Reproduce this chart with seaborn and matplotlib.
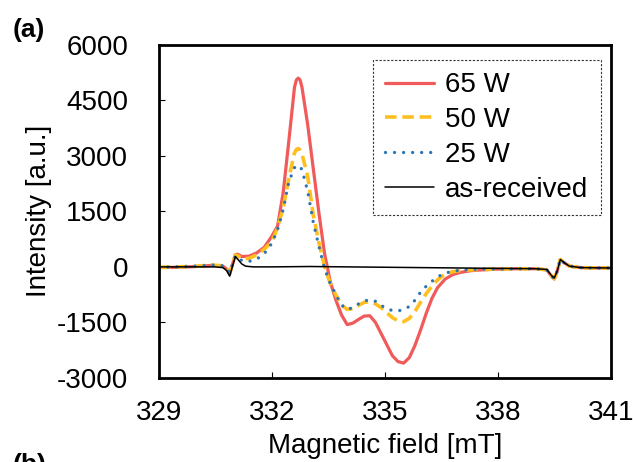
import matplotlib
matplotlib.use("Agg")
import matplotlib.pyplot as plt
import seaborn as sns
import pandas as pd

# Magnetic field positions (mT) shared by the plasma-treated spectra
field_mT = [329.0, 329.5, 330.0, 330.4, 330.7, 330.8, 330.88, 330.95, 331.03, 331.1,
            331.2, 331.4, 331.6, 331.8, 332.0, 332.15, 332.3, 332.45, 332.6, 332.65,
            332.7, 332.75, 332.8, 332.95, 333.1, 333.25, 333.4, 333.55, 333.7, 333.85,
            334.0, 334.15, 334.3, 334.45, 334.6, 334.75, 334.9, 335.05, 335.2, 335.35,
            335.5, 335.65, 335.8, 335.95, 336.1, 336.25, 336.4, 336.6, 336.8, 337.0,
            337.3, 337.6, 338.0, 338.5, 339.0, 339.3, 339.42, 339.5, 339.58, 339.66,
            339.75, 339.9, 340.2, 340.6, 341.0]

int_65W = [-20, -10, 10, 40, 20, -60, -200, 50, 330, 340,
           280, 290, 380, 530, 830, 1100, 2000, 3400, 4850, 5050,
           5100, 5050, 4850, 3850, 2650, 1450, 350, -400, -900, -1300,
           -1560, -1520, -1420, -1330, -1320, -1500, -1800, -2100, -2400, -2560,
           -2600, -2450, -2120, -1700, -1250, -850, -560, -330, -210, -150,
           -100, -80, -60, -50, -50, -80, -250, -330, -100, 200,
           120, 20, -20, -30, -30]

int_50W = [-10, 0, 20, 50, 30, -40, -160, 60, 320, 300,
           220, 230, 330, 480, 690, 1050, 1600, 2400, 3080, 3170,
           3200, 3150, 3050, 2450, 1400, 650, 0, -450, -760, -1030,
           -1150, -1130, -1040, -960, -940, -1000, -1100, -1240, -1370, -1460,
           -1480, -1390, -1200, -950, -720, -520, -350, -190, -130, -100,
           -80, -70, -60, -50, -50, -80, -240, -320, -100, 200,
           120, 20, -20, -30, -30]

int_25W = [-10, 0, 20, 50, 30, -40, -160, 60, 300, 260,
           170, 150, 210, 360, 640, 1000, 1550, 2300, 2680, 2730,
           2740, 2710, 2620, 2050, 1200, 550, -50, -450, -760, -1030,
           -1150, -1100, -1000, -920, -890, -930, -1040, -1130, -1180, -1190,
           -1150, -1070, -900, -680, -520, -390, -270, -170, -120, -90,
           -70, -60, -60, -50, -50, -80, -240, -320, -100, 200,
           120, 20, -20, -30, -30]

# Untreated reference spectrum
field_raw_mT = [329.0, 330.0, 330.5, 330.7, 330.8, 330.88, 330.95, 331.03, 331.1, 331.2,
                331.3, 331.5, 332.0, 333.0, 334.0, 335.0, 336.0, 337.0, 338.0, 339.0,
                339.3, 339.42, 339.5, 339.58, 339.66, 339.75, 339.9, 340.2, 341.0]
int_raw = [0, 0, 0, -20, -100, -250, 0, 280, 200, 80,
           20, 0, 0, 10, 0, -10, -20, -30, -40, -50,
           -70, -230, -300, -100, 200, 120, 20, -20, -30]

series_labels = ["65 W", "50 W", "25 W", "as-received"]
x_ticks = [329, 332, 335, 338, 341]
y_ticks = [-3000, -1500, 0, 1500, 3000, 4500, 6000]

sns.set_theme(style="white")
plt.rcParams["font.family"] = ["Liberation Sans", "DejaVu Sans"]

fig = plt.figure(figsize=(6.33, 4.62), dpi=100)
ax = fig.add_axes([0.251, 0.182, 0.714, 0.721])

df65 = pd.DataFrame({"field": field_mT, "intensity": int_65W})
df50 = pd.DataFrame({"field": field_mT, "intensity": int_50W})
df25 = pd.DataFrame({"field": field_mT, "intensity": int_25W})
dfraw = pd.DataFrame({"field": field_raw_mT, "intensity": int_raw})

sns.lineplot(data=df65, x="field", y="intensity", ax=ax, estimator=None,
             color="#F05A5A", linewidth=2.3, label=series_labels[0])
sns.lineplot(data=df50, x="field", y="intensity", ax=ax, estimator=None,
             color="#FFBF1F", linewidth=2.6, linestyle=(0, (3.2, 1.6)),
             label=series_labels[1])
sns.lineplot(data=df25, x="field", y="intensity", ax=ax, estimator=None,
             color="#2E75B6", linewidth=2.4, linestyle=(0, (0.01, 2.7)),
             dash_capstyle="round", label=series_labels[2])
sns.lineplot(data=dfraw, x="field", y="intensity", ax=ax, estimator=None,
             color="black", linewidth=1.1, label=series_labels[3])

ax.set_xlim(329, 341)
ax.set_ylim(-3000, 6000)
ax.set_xticks(x_ticks)
ax.set_yticks(y_ticks)
ax.set_xticklabels([str(t) for t in x_ticks])
ax.set_yticklabels([str(t) for t in y_ticks])

ax.tick_params(axis="both", direction="in", length=4, width=0.8,
               color="black", labelsize=20, labelcolor="black")
ax.tick_params(axis="x", pad=16, bottom=True)
ax.tick_params(axis="y", pad=22, left=True)

for side in ["left", "bottom", "right", "top"]:
    ax.spines[side].set_linewidth(2.0)
    ax.spines[side].set_color("black")

ax.set_xlabel("Magnetic field [mT]", fontsize=20, color="black", labelpad=5)
ax.set_ylabel("Intensity [a.u.]", fontsize=20, color="black", labelpad=4)

leg = ax.legend(loc="upper right", bbox_to_anchor=(0.978, 0.955), fontsize=20,
                frameon=True, fancybox=False, handlelength=1.75, handletextpad=0.4,
                labelspacing=0.32, borderpad=0.45, borderaxespad=0.0,
                labelcolor="black")
frame = leg.get_frame()
frame.set_linestyle((0, (2, 1.5)))
frame.set_edgecolor("#333333")
frame.set_linewidth(0.8)
frame.set_facecolor("white")
frame.set_alpha(1.0)

fig.text(0.02, 0.934, "(a)", fontsize=19, fontweight="bold", va="center", ha="left",
         color="black")
fig.text(0.02, 0.0195, "(b)", fontsize=19, fontweight="bold", va="top", ha="left",
         color="black")

fig.savefig("out.png", dpi=100)
